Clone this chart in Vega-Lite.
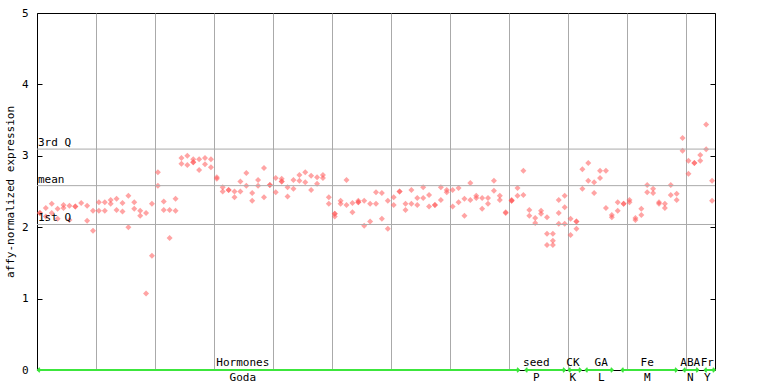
{
  "$schema": "https://vega.github.io/schema/vega-lite/v6.json",
  "width": 678,
  "height": 357,
  "autosize": {"type": "none"},
  "padding": {"left": 37, "top": 13, "right": 53, "bottom": 14},
  "background": "white",
  "config": {
    "view": {"stroke": "black", "strokeWidth": 1},
    "font": "DejaVu Sans Mono",
    "axis": {"labelFont": "DejaVu Sans Mono", "titleFont": "DejaVu Sans Mono"}
  },
  "datasets": {
    "samples": [
      {"x":0.5,"v":2.20},{"x":0.5,"v":2.20},
      {"x":1.5,"v":2.27},{"x":1.5,"v":2.15},
      {"x":2.5,"v":2.33},{"x":2.5,"v":2.20},
      {"x":3.5,"v":2.26},{"x":3.5,"v":2.12},
      {"x":4.5,"v":2.31},{"x":4.5,"v":2.27},
      {"x":5.5,"v":2.30},{"x":5.5,"v":2.10},
      {"x":6.5,"v":2.29},{"x":6.5,"v":2.29},
      {"x":7.5,"v":2.34},
      {"x":8.5,"v":2.30},{"x":8.5,"v":2.09},
      {"x":9.5,"v":2.23},{"x":9.5,"v":1.95},
      {"x":10.5,"v":2.35},{"x":10.5,"v":2.23},
      {"x":11.5,"v":2.35},{"x":11.5,"v":2.23},
      {"x":12.5,"v":2.38},{"x":12.5,"v":2.33},
      {"x":13.5,"v":2.40},{"x":13.5,"v":2.24},
      {"x":14.5,"v":2.34},{"x":14.5,"v":2.22},
      {"x":15.5,"v":2.44},{"x":15.5,"v":2.00},
      {"x":16.5,"v":2.35},{"x":16.5,"v":2.26},
      {"x":17.5,"v":2.23},{"x":17.5,"v":2.16},
      {"x":18.5,"v":2.20},{"x":18.5,"v":1.07},
      {"x":19.5,"v":2.33},{"x":19.5,"v":1.60},
      {"x":20.5,"v":2.77},{"x":20.5,"v":2.58},
      {"x":21.5,"v":2.36},{"x":21.5,"v":2.24},
      {"x":22.5,"v":2.24},{"x":22.5,"v":1.85},
      {"x":23.5,"v":2.40},{"x":23.5,"v":2.23},
      {"x":24.5,"v":2.97},{"x":24.5,"v":2.89},
      {"x":25.5,"v":3.00},{"x":25.5,"v":2.87},
      {"x":26.5,"v":2.95},{"x":26.5,"v":2.91},{"x":26.5,"v":2.91},
      {"x":27.5,"v":2.95},{"x":27.5,"v":2.80},
      {"x":28.5,"v":2.97},{"x":28.5,"v":2.88},
      {"x":29.5,"v":2.95},{"x":29.5,"v":2.84},
      {"x":30.5,"v":2.70},{"x":30.5,"v":2.68},
      {"x":31.5,"v":2.56},{"x":31.5,"v":2.50},
      {"x":32.5,"v":2.52},{"x":32.5,"v":2.52},
      {"x":33.5,"v":2.50},{"x":33.5,"v":2.42},
      {"x":34.5,"v":2.64},{"x":34.5,"v":2.50},
      {"x":35.5,"v":2.76},{"x":35.5,"v":2.58},
      {"x":36.5,"v":2.48},{"x":36.5,"v":2.37},
      {"x":37.5,"v":2.66},{"x":37.5,"v":2.58},
      {"x":38.5,"v":2.83},{"x":38.5,"v":2.42},
      {"x":39.5,"v":2.59},{"x":39.5,"v":2.59},
      {"x":40.5,"v":2.69},{"x":40.5,"v":2.49},
      {"x":41.5,"v":2.68},{"x":41.5,"v":2.64},{"x":41.5,"v":2.64},
      {"x":42.5,"v":2.56},{"x":42.5,"v":2.43},
      {"x":43.5,"v":2.66},{"x":43.5,"v":2.54},
      {"x":44.5,"v":2.73},{"x":44.5,"v":2.65},
      {"x":45.5,"v":2.77},{"x":45.5,"v":2.63},
      {"x":46.5,"v":2.72},{"x":46.5,"v":2.52},
      {"x":47.5,"v":2.70},{"x":47.5,"v":2.61},
      {"x":48.5,"v":2.73},{"x":48.5,"v":2.69},
      {"x":49.5,"v":2.42},{"x":49.5,"v":2.33},
      {"x":50.5,"v":2.19},{"x":50.5,"v":2.19},{"x":50.5,"v":2.15},
      {"x":51.5,"v":2.37},{"x":51.5,"v":2.33},
      {"x":52.5,"v":2.66},{"x":52.5,"v":2.31},
      {"x":53.5,"v":2.34},{"x":53.5,"v":2.21},
      {"x":54.5,"v":2.37},{"x":54.5,"v":2.35},{"x":54.5,"v":2.35},
      {"x":55.5,"v":2.37},{"x":55.5,"v":2.02},
      {"x":56.5,"v":2.33},{"x":56.5,"v":2.08},
      {"x":57.5,"v":2.49},{"x":57.5,"v":2.33},
      {"x":58.5,"v":2.48},{"x":58.5,"v":2.12},
      {"x":59.5,"v":2.37},{"x":59.5,"v":1.98},
      {"x":60.5,"v":2.42},{"x":60.5,"v":2.31},
      {"x":61.5,"v":2.50},{"x":61.5,"v":2.50},
      {"x":62.5,"v":2.33},{"x":62.5,"v":2.24},
      {"x":63.5,"v":2.52},{"x":63.5,"v":2.33},
      {"x":64.5,"v":2.41},{"x":64.5,"v":2.31},
      {"x":65.5,"v":2.56},{"x":65.5,"v":2.41},
      {"x":66.5,"v":2.45},{"x":66.5,"v":2.29},
      {"x":67.5,"v":2.31},{"x":67.5,"v":2.31},
      {"x":68.5,"v":2.56},{"x":68.5,"v":2.38},
      {"x":69.5,"v":2.52},{"x":69.5,"v":2.49},
      {"x":70.5,"v":2.52},{"x":70.5,"v":2.29},
      {"x":71.5,"v":2.55},{"x":71.5,"v":2.35},
      {"x":72.5,"v":2.40},{"x":72.5,"v":2.16},
      {"x":73.5,"v":2.62},{"x":73.5,"v":2.38},
      {"x":74.5,"v":2.44},{"x":74.5,"v":2.41},
      {"x":75.5,"v":2.41},{"x":75.5,"v":2.26},
      {"x":76.5,"v":2.41},{"x":76.5,"v":2.33},
      {"x":77.5,"v":2.65},{"x":77.5,"v":2.51},
      {"x":78.5,"v":2.44},{"x":78.5,"v":2.38},
      {"x":79.5,"v":2.21},{"x":79.5,"v":2.20},
      {"x":80.5,"v":2.38},{"x":80.5,"v":2.37},{"x":80.5,"v":2.37},
      {"x":81.5,"v":2.55},{"x":81.5,"v":2.44},
      {"x":82.5,"v":2.79},{"x":82.5,"v":2.45},
      {"x":83.5,"v":2.24},{"x":83.5,"v":2.16},
      {"x":84.5,"v":2.13},{"x":84.5,"v":2.06},
      {"x":85.5,"v":2.23},{"x":85.5,"v":2.19},
      {"x":86.5,"v":2.14},{"x":86.5,"v":1.91},{"x":86.5,"v":1.75},
      {"x":87.5,"v":1.91},{"x":87.5,"v":1.81},{"x":87.5,"v":1.75},
      {"x":88.5,"v":2.38},{"x":88.5,"v":2.20},{"x":88.5,"v":2.05},
      {"x":89.5,"v":2.44},{"x":89.5,"v":2.28},{"x":89.5,"v":2.05},
      {"x":90.5,"v":2.12},{"x":90.5,"v":1.89},
      {"x":91.5,"v":2.08},{"x":91.5,"v":2.08},{"x":91.5,"v":1.98},
      {"x":92.5,"v":2.81},{"x":92.5,"v":2.54},
      {"x":93.5,"v":2.90},{"x":93.5,"v":2.65},
      {"x":94.5,"v":2.63},{"x":94.5,"v":2.48},
      {"x":95.5,"v":2.79},{"x":95.5,"v":2.69},
      {"x":96.5,"v":2.79},{"x":96.5,"v":2.27},
      {"x":97.5,"v":2.17},{"x":97.5,"v":2.14},
      {"x":98.5,"v":2.35},{"x":98.5,"v":2.23},
      {"x":99.5,"v":2.33},{"x":99.5,"v":2.33},
      {"x":100.5,"v":2.38},{"x":100.5,"v":2.35},
      {"x":101.5,"v":2.13},{"x":101.5,"v":2.10},
      {"x":102.5,"v":2.26},{"x":102.5,"v":2.17},
      {"x":103.5,"v":2.59},{"x":103.5,"v":2.49},
      {"x":104.5,"v":2.54},{"x":104.5,"v":2.48},
      {"x":105.5,"v":2.35},{"x":105.5,"v":2.33},
      {"x":106.5,"v":2.33},{"x":106.5,"v":2.27},
      {"x":107.5,"v":2.59},{"x":107.5,"v":2.45},
      {"x":108.5,"v":2.47},{"x":108.5,"v":2.38},
      {"x":109.5,"v":3.25},{"x":109.5,"v":3.07},
      {"x":110.5,"v":2.93},{"x":110.5,"v":2.75},
      {"x":111.5,"v":2.90},{"x":111.5,"v":2.90},
      {"x":112.5,"v":3.01},{"x":112.5,"v":2.93},
      {"x":113.5,"v":3.44},{"x":113.5,"v":3.09},
      {"x":114.5,"v":2.65},{"x":114.5,"v":2.37}
    ],
    "stats": [
      {"label": "3rd Q", "v": 3.094},
      {"label": "mean", "v": 2.582},
      {"label": "1st Q", "v": 2.038}
    ],
    "groups": [
      {"top": "Hormones", "bottom": "Goda", "lx": 34.9, "start": 0.1, "end": 81.8},
      {"top": "seed", "bottom": "P", "lx": 84.7, "start": 82.8, "end": 89.6},
      {"top": "CK", "bottom": "K", "lx": 90.9, "start": 90.1, "end": 92.3},
      {"top": "GA", "bottom": "L", "lx": 95.7, "start": 93.0, "end": 97.7},
      {"top": "Fe", "bottom": "M", "lx": 103.5, "start": 99.1, "end": 108.6},
      {"top": "ABA", "bottom": "N", "lx": 110.8, "start": 109.6, "end": 112.2},
      {"top": "Fr", "bottom": "Y", "lx": 113.7, "start": 113.2, "end": 115}
    ]
  },
  "resolve": {"axis": {"y": "independent"}},
  "layer": [
    {
      "data": {"name": "samples"},
      "mark": {"type": "point", "shape": "diamond", "filled": true, "size": 36, "color": "#ff5a5a", "opacity": 0.55},
      "encoding": {
        "x": {"field": "x", "type": "quantitative",
          "scale": {"domain": [0, 115], "nice": false, "zero": false},
          "axis": {"values": [10,20,30,40,50,60,70,80,90,100,110], "grid": true, "gridColor": "#aaaaaa", "gridWidth": 1, "gridOpacity": 1, "labels": false, "ticks": false, "domain": false, "title": null}},
        "y": {"field": "v", "type": "quantitative",
          "scale": {"domain": [0, 5], "nice": false, "zero": false},
          "axis": {"values": [0,1,2,3,4,5], "grid": false, "domain": false, "tickSize": -5, "tickColor": "black", "labelPadding": 14, "labelFontSize": 11, "labelColor": "black", "labelFont": "DejaVu Sans Mono",
            "title": "affy-normalized expression", "titleFontSize": 11, "titleFontWeight": "normal", "titleColor": "black", "titlePadding": 6, "titleFont": "DejaVu Sans Mono"}}
      }
    },
    {
      "data": {"name": "stats"},
      "mark": {"type": "rule", "color": "#aaaaaa", "strokeWidth": 1},
      "encoding": {
        "y": {"field": "v", "type": "quantitative", "axis": {"orient": "right", "values": [0,1,2,3,4,5], "labels": false, "domain": false, "grid": false, "tickSize": -5, "tickColor": "black", "title": null}}
      }
    },
    {
      "data": {"name": "stats"},
      "mark": {"type": "text", "align": "left", "baseline": "alphabetic", "dx": 1, "dy": -3, "fontSize": 11, "font": "DejaVu Sans Mono", "color": "black"},
      "encoding": {
        "x": {"datum": 0, "type": "quantitative"},
        "y": {"field": "v", "type": "quantitative", "axis": null},
        "text": {"field": "label"}
      }
    },
    {
      "data": {"name": "groups"},
      "mark": {"type": "rule", "color": "#3ce63c", "strokeWidth": 2},
      "encoding": {
        "x": {"field": "start", "type": "quantitative"},
        "x2": {"field": "end"},
        "y": {"datum": 0, "type": "quantitative", "axis": null}
      }
    },
    {
      "data": {"name": "groups"},
      "mark": {"type": "point", "shape": "M1,-1L0,0L1,1", "filled": false, "size": 20, "color": "#3ce63c", "strokeWidth": 1.5, "opacity": 1},
      "encoding": {
        "x": {"field": "start", "type": "quantitative"},
        "y": {"datum": 0, "type": "quantitative", "axis": null}
      }
    },
    {
      "data": {"name": "groups"},
      "mark": {"type": "point", "shape": "M-1,-1L0,0L-1,1", "filled": false, "size": 20, "color": "#3ce63c", "strokeWidth": 1.5, "opacity": 1},
      "encoding": {
        "x": {"field": "end", "type": "quantitative"},
        "y": {"datum": 0, "type": "quantitative", "axis": null}
      }
    },
    {
      "data": {"name": "groups"},
      "mark": {"type": "text", "align": "center", "baseline": "middle", "dy": -7, "fontSize": 11, "font": "DejaVu Sans Mono", "color": "black", "clip": false},
      "encoding": {
        "x": {"field": "lx", "type": "quantitative"},
        "y": {"datum": 0, "type": "quantitative", "axis": null},
        "text": {"field": "top"}
      }
    },
    {
      "data": {"name": "groups"},
      "mark": {"type": "text", "align": "center", "baseline": "middle", "dy": 8, "fontSize": 11, "font": "DejaVu Sans Mono", "color": "black", "clip": false},
      "encoding": {
        "x": {"field": "lx", "type": "quantitative"},
        "y": {"datum": 0, "type": "quantitative", "axis": null},
        "text": {"field": "bottom"}
      }
    }
  ]
}
